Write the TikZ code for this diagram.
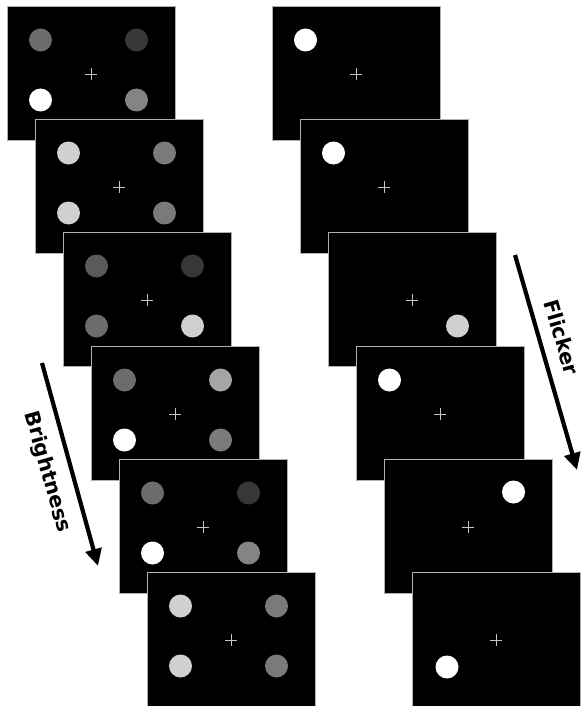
\documentclass[tikz,border=0pt]{standalone}
\usepackage{fontspec}
\setsansfont{DejaVu Sans}
\usetikzlibrary{arrows.meta,calc}
\definecolor{gA}{RGB}{55,55,55}
\definecolor{gB}{RGB}{90,90,90}
\definecolor{gC}{RGB}{108,108,108}
\definecolor{gD}{RGB}{122,122,122}
\definecolor{gE}{RGB}{132,132,132}
\definecolor{gF}{RGB}{165,165,165}
\definecolor{gG}{RGB}{208,208,208}
\definecolor{gW}{RGB}{255,255,255}
\definecolor{edgegray}{RGB}{175,175,175}
\newcommand\stimframe[3]{% name, x0, y0
  \begin{scope}[shift={(#2,#3)}]
    \node[screen] (#1) at (84,67) {};
    \draw[fixcross] (78,68) -- (90,68) (84,62) -- (84,74);
  \end{scope}}
\newcommand\stimdot[4]{% name, frame, rel position, colour
  \node[dotshape,fill=#4] (#1) at ($(#2.north west)+#3$) {};}
\begin{document}
\begin{tikzpicture}[x=1pt,y=-1pt,
  screen/.style={fill=black,draw=edgegray,line width=0.8pt,minimum width=168pt,minimum height=134pt,inner sep=0pt,outer sep=0pt},
  fixcross/.style={draw=gray!45,line width=0.9pt},
  dotshape/.style={circle,minimum size=23pt,inner sep=0pt,draw=none},
  dimarrow/.style={line width=4.2pt,-{Triangle[length=17pt,width=16pt]}},
  dimlabel/.style={font=\sffamily\bfseries\fontsize{20.5}{24}\selectfont,inner sep=0pt}]
\useasboundingbox (0,0) rectangle (585,706);
% ---------- left column (brightness) ----------
\stimframe{L1}{7}{6}
\stimdot{L1a}{L1}{(33.5,34)}{gC}
\stimdot{L1b}{L1}{(129.5,34)}{gA}
\stimdot{L1c}{L1}{(33.5,94)}{gW}
\stimdot{L1d}{L1}{(129.5,94)}{gE}
\stimframe{L2}{35}{119}
\stimdot{L2a}{L2}{(33.5,34)}{gG}
\stimdot{L2b}{L2}{(129.5,34)}{gD}
\stimdot{L2c}{L2}{(33.5,94)}{gG}
\stimdot{L2d}{L2}{(129.5,94)}{gD}
\stimframe{L3}{63}{232}
\stimdot{L3a}{L3}{(33.5,34)}{gB}
\stimdot{L3b}{L3}{(129.5,34)}{gA}
\stimdot{L3c}{L3}{(33.5,94)}{gC}
\stimdot{L3d}{L3}{(129.5,94)}{gG}
\stimframe{L4}{91}{346}
\stimdot{L4a}{L4}{(33.5,34)}{gC}
\stimdot{L4b}{L4}{(129.5,34)}{gF}
\stimdot{L4c}{L4}{(33.5,94)}{gW}
\stimdot{L4d}{L4}{(129.5,94)}{gD}
\stimframe{L5}{119}{459}
\stimdot{L5a}{L5}{(33.5,34)}{gC}
\stimdot{L5b}{L5}{(129.5,34)}{gA}
\stimdot{L5c}{L5}{(33.5,94)}{gW}
\stimdot{L5d}{L5}{(129.5,94)}{gE}
\stimframe{L6}{147}{572}
\stimdot{L6a}{L6}{(33.5,34)}{gG}
\stimdot{L6b}{L6}{(129.5,34)}{gD}
\stimdot{L6c}{L6}{(33.5,94)}{gG}
\stimdot{L6d}{L6}{(129.5,94)}{gD}
% ---------- right column (flicker) ----------
\stimframe{R1}{272}{6}
\stimdot{R1a}{R1}{(33.5,34)}{gW}
\stimframe{R2}{300}{119}
\stimdot{R2a}{R2}{(33.5,34)}{gW}
\stimframe{R3}{328}{232}
\stimdot{R3d}{R3}{(129.5,94)}{gG}
\stimframe{R4}{356}{346}
\stimdot{R4a}{R4}{(33.5,34)}{gW}
\stimframe{R5}{384}{459}
\stimdot{R5b}{R5}{(129.5,33)}{gW}
\stimframe{R6}{412}{572}
\stimdot{R6c}{R6}{(35,95)}{gW}
% ---------- arrows and labels ----------
\coordinate (bStart) at (42,363);
\coordinate (bEnd) at (98,566);
\draw[dimarrow] (bStart) -- (bEnd);
\node[dimlabel,rotate=-74.5] (bLabel) at (47,472) {Brightness};
\coordinate (fStart) at (515,255);
\coordinate (fEnd) at (577,470);
\draw[dimarrow] (fStart) -- (fEnd);
\node[dimlabel,rotate=-73.8] (fLabel) at (562,337) {Flicker};
\end{tikzpicture}
\end{document}
